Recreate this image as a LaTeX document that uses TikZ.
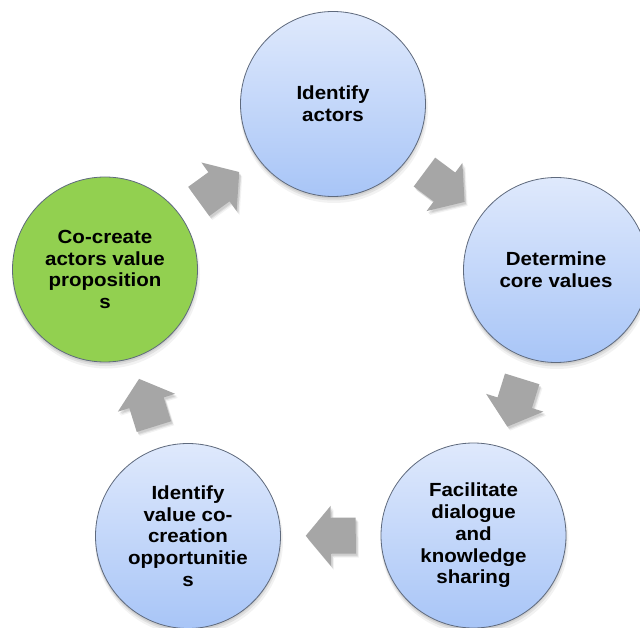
\documentclass[tikz,border=0pt]{standalone}
\usepackage{fontspec}
\newfontfamily\labfont{Liberation Sans}[FakeStretch=1.08]
\usetikzlibrary{calc}
\definecolor{bluetop}{HTML}{DFE9FC}
\definecolor{bluebot}{HTML}{A8C5F7}
\definecolor{ringline}{HTML}{5F6A7D}
\definecolor{greenfill}{HTML}{92D050}
\definecolor{arrowgray}{HTML}{A6A6A6}
\tikzset{
  stage/.style={circle, minimum size=185pt, inner sep=0pt, draw=ringline, line width=0.8pt,
    align=center, font=\labfont\bfseries\fontsize{19}{21.7}\selectfont, text=black},
  bluestage/.style={stage, top color=bluetop, bottom color=bluebot},
  greenstage/.style={stage, fill=greenfill},
  arrowbody/.style={fill=arrowgray},
  arrowshade/.style={fill=black},
  circshade/.style={fill=black}
}
\newcommand\arrowpath{(-25,-18) -- (0,-18) -- (0,-30) -- (25,0) -- (0,30) -- (0,18) -- (-25,18) -- cycle}
\newcommand\cyclearrow[3]{%
  \pgfmathanglebetweenpoints{\pgfpointanchor{#2}{center}}{\pgfpointanchor{#3}{center}}%
  \edef\arrang{\pgfmathresult}%
  \coordinate (#1) at ($(#2)!0.5!(#3)$);
  \foreach \dx/\dy/\op in {3/4/0.05, 2/3/0.07, 1.5/2/0.08} {
    \fill[arrowshade, opacity=\op, shift={($(#1)+(\dx,\dy)$)}, rotate=\arrang] \arrowpath;
  }
  \fill[arrowbody, shift={(#1)}, rotate=\arrang] \arrowpath;
}
\begin{document}
\begin{tikzpicture}[x=1pt,y=-1pt]
\path[use as bounding box, fill=white] (0,0) rectangle (640,628);
\coordinate (cTop) at (333,104);
\coordinate (cRight) at (556,270);
\coordinate (cBR) at (473.5,535.5);
\coordinate (cBL) at (188,536);
\coordinate (cLeft) at (105,269.5);
\foreach \c in {cTop,cRight,cBR,cBL,cLeft} {
  \fill[circshade, opacity=0.05] ($(\c)+(1,5)$) circle (94pt);
  \fill[circshade, opacity=0.07] ($(\c)+(0.5,3.5)$) circle (93pt);
  \fill[circshade, opacity=0.08] ($(\c)+(0,2)$) circle (92.5pt);
}
\node[bluestage] (nTop) at (cTop) {Identify\\actors};
\node[bluestage] (nRight) at (cRight) {Determine\\core values};
\node[bluestage] (nBR) at (cBR) {Facilitate\\dialogue\\and\\knowledge\\sharing};
\node[bluestage] (nBL) at (cBL) {Identify\\value co-\\creation\\opportunitie\\s};
\node[greenstage] (nLeft) at (cLeft) {Co-create\\actors value\\proposition\\s};
\cyclearrow{a1}{nLeft}{nTop}
\cyclearrow{a2}{nTop}{nRight}
\cyclearrow{a3}{nRight}{nBR}
\cyclearrow{a4}{nBR}{nBL}
\cyclearrow{a5}{nBL}{nLeft}
\end{tikzpicture}
\end{document}
